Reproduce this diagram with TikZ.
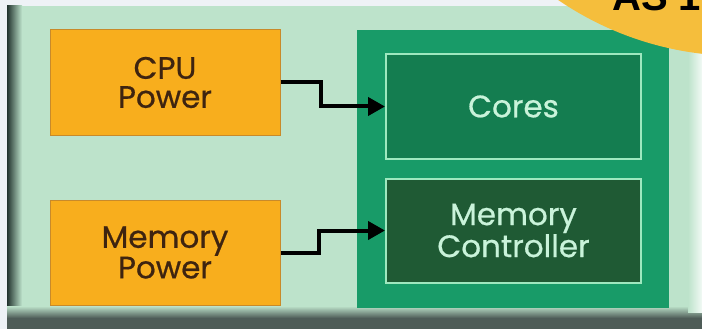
\documentclass[tikz,border=0pt]{standalone}
\usepackage{fontspec}
\setmainfont{Poppins}
\newfontfamily\labelfont{Poppins}[FakeBold=0.6]
\newfontfamily\boldsans{Liberation Sans}
\usetikzlibrary{arrows.meta}

\definecolor{pagebg}{HTML}{EEF2F6}
\definecolor{mint}{HTML}{BDE3CB}
\definecolor{darkedge}{HTML}{22332E}
\definecolor{grayedge}{HTML}{4E5C57}
\definecolor{powerfill}{HTML}{F8AE1D}
\definecolor{powerline}{HTML}{C88A2A}
\definecolor{powertext}{HTML}{3E2410}
\definecolor{chipfill}{HTML}{189B68}
\definecolor{corefill}{HTML}{147D50}
\definecolor{ctlfill}{HTML}{1F5A34}
\definecolor{chipline}{HTML}{9EE8BF}
\definecolor{chiptext}{HTML}{C9F3DA}
\definecolor{badge}{HTML}{F5BE3C}

\tikzset{
  powerbox/.style={rectangle,fill=powerfill,draw=powerline,line width=1pt,
    minimum width=230pt,minimum height=105pt,align=center,text=powertext,
    font=\labelfont\fontsize{31}{29}\selectfont},
  unitbox/.style={rectangle,draw=chipline,line width=2pt,
    minimum width=255pt,minimum height=104pt,align=center,text=chiptext,
    font=\labelfont\fontsize{31}{32}\selectfont},
  wire/.style={line width=4pt,-{Triangle[length=17pt,width=18pt]}}
}

\begin{document}
\begin{tikzpicture}[x=1pt,y=-1pt]
\useasboundingbox (0,0) rectangle (702,329);
\clip (0,0) rectangle (702,329);

% background and panel
\fill[pagebg] (0,0) rectangle (702,329);
\fill[mint] (7,6) rectangle (702,329);
\shade[left color=darkedge,right color=mint] (7,6) rectangle (22,329);
\shade[top color=mint,bottom color=grayedge] (7,306) rectangle (702,318);
\fill[grayedge] (7,318) rectangle (702,329);
\shade[left color=mint,right color=white!80!mint] (688,6) rectangle (702,312);

% power boxes
\node[powerbox] (cpu) at (165,82.5) {CPU\\Power};
\node[powerbox] (mempower) at (165,252.5) {Memory\\Power};

% processor
\node[rectangle,fill=chipfill,minimum width=312pt,minimum height=278pt] (chip) at (513,169) {};
\node[unitbox,fill=corefill] (cores) at (513.5,106.5) {Cores};
\node[unitbox,fill=ctlfill] (memctl) at (513.5,230.5) {Memory\\Controller};

% wires
\draw[wire] (cpu.east) -- ++(40,0) |- (cores.west);
\draw[wire] (mempower.east) -- ++(38,0) |- (memctl.west);

% badge in the corner
\fill[badge] (740,-267) circle (323pt);
\node[anchor=base west,inner sep=0pt,font=\boldsans\bfseries\fontsize{40}{40}\selectfont] (badgetext) at (612,11) {AS 1};
\end{tikzpicture}
\end{document}
